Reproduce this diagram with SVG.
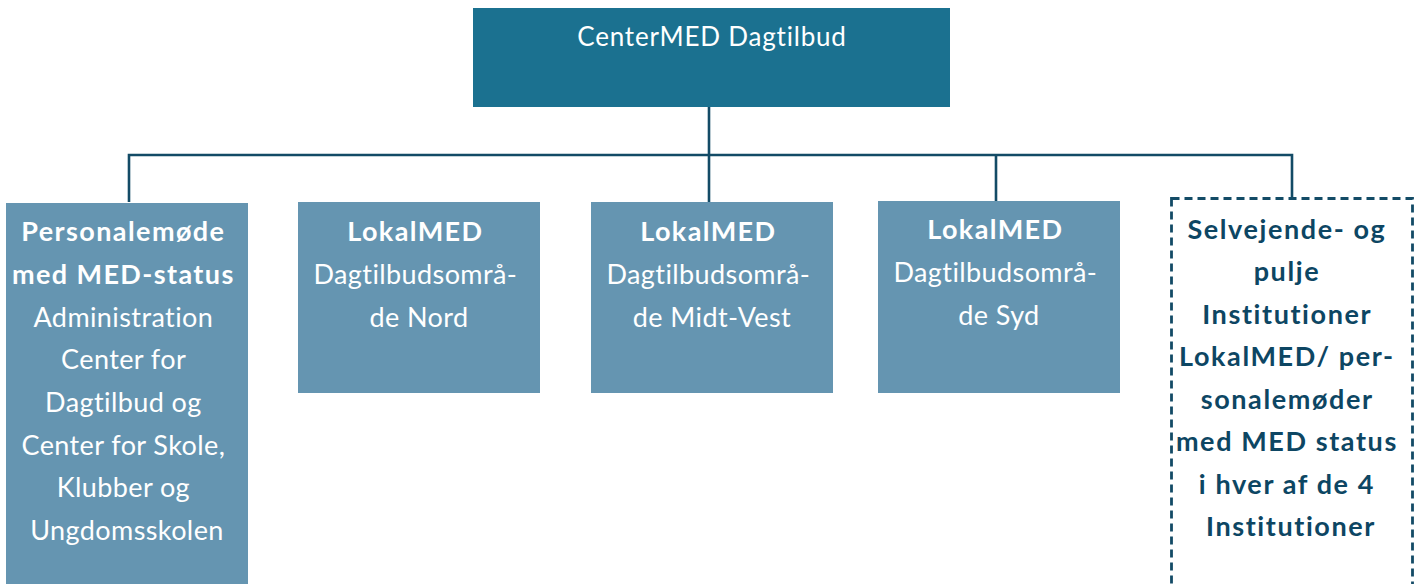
<svg xmlns="http://www.w3.org/2000/svg" width="1424" height="584" viewBox="0 0 1424 584">
<style>
.top{fill:#1b7190}
.box{fill:#6595b1}
.conn{stroke:#134b66;stroke-width:2.6;fill:none}
.dash{stroke:#134b66;stroke-width:2.8;fill:none;stroke-dasharray:8 5}
text{font-family:Lato,"Noto Sans","Liberation Sans",sans-serif;font-size:27px;text-anchor:middle;font-variant-ligatures:none;letter-spacing:0.4px}
.w{fill:#ffffff}
.d{fill:#0d4663;font-weight:bold;letter-spacing:1.6px}
.b{font-weight:bold;letter-spacing:1.4px}
</style>
<rect width="1424" height="584" fill="#ffffff"/>
<g id="connectors">
<path class="conn" d="M709 107V202M129 202V155H1292V198M996 155V201"/>
</g>
<g id="centermed">
<rect class="top" x="473" y="8" width="477" height="99"/>
<text class="w" x="712" y="46" style="font-size:26px;letter-spacing:0.8px">CenterMED Dagtilbud</text>
</g>
<g id="personalemode">
<rect class="box" x="6" y="203" width="242" height="390"/>
<text class="w" x="127">
<tspan class="b" x="127" y="241">Personalemøde</tspan>
<tspan class="b" x="127" y="284">med MED-status</tspan>
<tspan x="127" y="327">Administration</tspan>
<tspan x="127" y="369">Center for</tspan>
<tspan x="127" y="412">Dagtilbud og</tspan>
<tspan x="127" y="455">Center for Skole,</tspan>
<tspan x="127" y="497">Klubber og</tspan>
<tspan x="127" y="540">Ungdomsskolen</tspan>
</text>
</g>
<g id="nord">
<rect class="box" x="298" y="202" width="242" height="191"/>
<text class="w">
<tspan class="b" x="419" y="241">LokalMED</tspan>
<tspan x="419" y="284">Dagtilbudsområ-</tspan>
<tspan x="419" y="327">de Nord</tspan>
</text>
</g>
<g id="midtvest">
<rect class="box" x="591" y="202" width="242" height="191"/>
<text class="w">
<tspan class="b" x="712" y="241">LokalMED</tspan>
<tspan x="712" y="284">Dagtilbudsområ-</tspan>
<tspan x="712" y="327">de Midt-Vest</tspan>
</text>
</g>
<g id="syd">
<rect class="box" x="878" y="201" width="242" height="192"/>
<text class="w">
<tspan class="b" x="999" y="239">LokalMED</tspan>
<tspan x="999" y="282">Dagtilbudsområ-</tspan>
<tspan x="999" y="325">de Syd</tspan>
</text>
</g>
<g id="selvejende">
<rect class="dash" x="1171.5" y="198.5" width="241" height="400"/>
<text class="d">
<tspan x="1291" y="239">Selvejende- og</tspan>
<tspan x="1291" y="281">pulje</tspan>
<tspan x="1291" y="324">Institutioner</tspan>
<tspan x="1291" y="366">LokalMED/ per-</tspan>
<tspan x="1291" y="409">sonalemøder</tspan>
<tspan x="1291" y="451">med MED status</tspan>
<tspan x="1291" y="494">i hver af de 4</tspan>
<tspan x="1291" y="536">Institutioner</tspan>
</text>
</g>
</svg>
